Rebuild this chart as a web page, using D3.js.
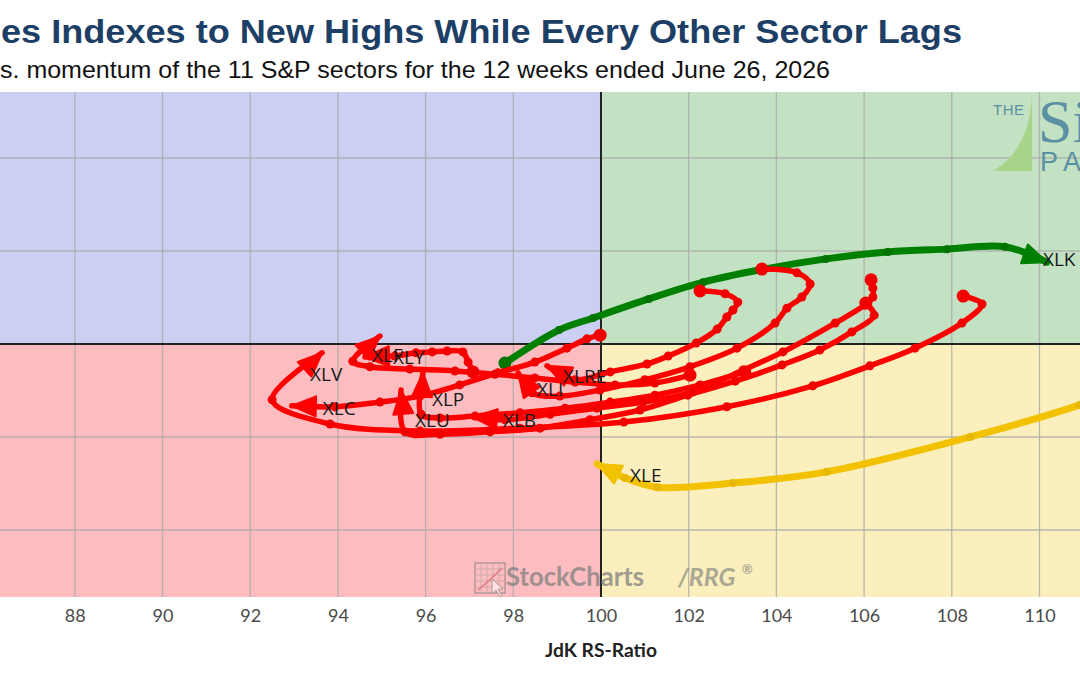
<!DOCTYPE html>
<html>
<head>
<meta charset="utf-8">
<script src="https://cdn.jsdelivr.net/npm/d3@7"></script>
<style>
  body { margin: 0; background: #fff; }
  svg { display: block; }
</style>
</head>
<body>
<div id="chart"></div>
<script>
// RS-Ratio / RS-Momentum weekly points, oldest first, last point = arrow
var xlk = [[97.81,99.59],[99.04,100.30],[99.82,100.56],[101.09,100.97],[102.33,101.33],[103.60,101.59],[105.13,101.83],[106.54,101.98],[107.89,102.04],[109.21,102.09],[110.17,101.76]];
var xle = [[111.49,98.90],[110.92,98.69],[108.42,98.00],[105.15,97.25],[103.01,97.01],[101.28,96.92],[100.55,97.12],[99.91,97.42]];
var xlv = [[108.26,101.03],[108.69,100.86],[108.23,100.45],[107.16,99.91],[106.13,99.53],[104.83,99.10],[102.87,98.65],[100.52,98.32],[98.15,98.19],[95.87,98.13],[93.82,98.28],[92.50,98.80],[93.64,99.81]];
var xlc = [[99.98,100.19],[99.68,100.11],[99.22,99.91],[98.49,99.61],[97.65,99.38],[96.78,99.12],[95.87,98.88],[94.96,98.75],[93.93,98.65],[92.95,98.67]];
var xlf = [[102.03,99.33],[101.23,99.16],[100.32,99.12],[99.41,99.18],[98.49,99.27],[97.58,99.35],[96.67,99.42],[95.64,99.46],[94.73,99.51],[94.34,99.63],[94.96,100.17]];
var xly = [[97.08,99.40],[96.97,99.61],[96.85,99.83],[96.49,99.85],[96.15,99.83],[95.78,99.81],[95.30,99.74],[94.62,99.72]];
var xlp = [[103.28,99.40],[102.26,99.12],[101.23,98.90],[100.21,98.75],[99.18,98.62],[98.15,98.52],[97.13,98.45],[96.33,98.41],[95.90,98.49],[95.94,99.38]];
var xlu = [[106.04,100.88],[106.23,100.62],[105.72,100.26],[104.99,99.87],[104.13,99.55],[103.06,99.20],[101.98,98.90],[100.89,98.58],[99.75,98.37],[98.61,98.19],[97.47,98.11],[96.33,98.06],[95.53,98.11],[95.44,99.01]];
var xli = [[103.67,101.61],[104.47,101.53],[104.77,101.29],[104.58,101.01],[104.24,100.77],[103.97,100.45],[103.10,99.91],[102.03,99.51],[101.00,99.23],[99.98,99.01],[99.06,98.88],[98.43,98.95],[98.11,99.38]];
var xlre = [[102.26,101.14],[102.83,101.08],[103.12,100.90],[103.01,100.73],[102.87,100.58],[102.65,100.32],[102.17,100.02],[101.53,99.74],[101.05,99.57],[100.21,99.40],[99.41,99.23],[98.77,99.53]];
var xlb = [[106.16,101.38],[106.20,101.20],[106.20,101.01],[106.02,100.84],[105.34,100.45],[104.15,99.83],[103.24,99.44],[102.10,98.97],[100.96,98.75],[99.91,98.62],[98.84,98.49],[97.81,98.37],[97.08,98.43]];

var redNames = ['XLV', 'XLC', 'XLF', 'XLY', 'XLP', 'XLU', 'XLI', 'XLRE', 'XLB'];
var redTails = [xlv, xlc, xlf, xly, xlp, xlu, xli, xlre, xlb];

var xTicks = [88, 90, 92, 94, 96, 98, 100, 102, 104, 106, 108, 110];
var yGrid = [94, 96, 98, 102, 104];

// label nudges (pixels) from the arrow tip
var labelOffset = {
  XLK: [-4, -3], XLE: [33, 11], XLV: [-12, 22], XLC: [31, 3], XLF: [-8, 19],
  XLY: [28, 0], XLP: [9, 27], XLU: [14, 30], XLI: [19, 17], XLRE: [16, 11], XLB: [30, 3]
};

var W = 1080, H = 675;
var plot = { left: 0, right: 1080, top: 92, bottom: 597 };

var svg = d3.select('#chart').append('svg')
    .attr('width', W)
    .attr('height', H);

var x = d3.scaleLinear().domain([86.294, 110.924]).range([plot.left, plot.right]);
var y = d3.scaleLinear().domain([94.559, 105.419]).range([plot.bottom, plot.top]);

// titles (left part of the original heading is cropped)
svg.append('text')
    .text('es Indexes to New Highs While Every Other Sector Lags')
    .attr('x', 1).attr('y', 43)
    .attr('textLength', 961).attr('lengthAdjust', 'spacingAndGlyphs')
    .style('font-family', '"Liberation Sans", Arial, sans-serif')
    .style('font-weight', 'bold')
    .style('font-size', '33px')
    .style('fill', '#1d3f66');

svg.append('text')
    .text('s. momentum of the 11 S&P sectors for the 12 weeks ended June 26, 2026')
    .attr('x', 0).attr('y', 78)
    .attr('textLength', 830).attr('lengthAdjust', 'spacingAndGlyphs')
    .style('font-family', '"Liberation Sans", Arial, sans-serif')
    .style('font-size', '24px')
    .style('fill', '#111');

svg.append('clipPath').attr('id', 'plotclip')
  .append('rect')
    .attr('x', plot.left).attr('y', plot.top)
    .attr('width', plot.right - plot.left).attr('height', plot.bottom - plot.top);

var g = svg.append('g').attr('clip-path', 'url(#plotclip)');

// quadrants
var quads = [
  { x0: x.domain()[0], x1: 100, y0: 100, y1: y.domain()[1], fill: '#cbcff4' },
  { x0: 100, x1: x.domain()[1], y0: 100, y1: y.domain()[1], fill: '#c3e1c3' },
  { x0: x.domain()[0], x1: 100, y0: y.domain()[0], y1: 100, fill: '#fdbdc0' },
  { x0: 100, x1: x.domain()[1], y0: y.domain()[0], y1: 100, fill: '#fbf0bd' }
];
g.selectAll('rect.quad')
    .data(quads)
    .enter()
    .append('rect')
    .attr('class', 'quad')
    .attr('x', function (d) { return x(d.x0); })
    .attr('y', function (d) { return y(d.y1); })
    .attr('width', function (d) { return x(d.x1) - x(d.x0); })
    .attr('height', function (d) { return y(d.y0) - y(d.y1); })
    .style('fill', function (d) { return d.fill; });

// grid
g.selectAll('line.vgrid')
    .data(xTicks.filter(function (t) { return t != 100; }))
    .enter().append('line')
    .attr('x1', function (d) { return x(d); }).attr('x2', function (d) { return x(d); })
    .attr('y1', plot.top).attr('y2', plot.bottom)
    .style('stroke', '#aaaaaa').style('stroke-width', 1.3).style('opacity', 0.8);

g.selectAll('line.hgrid')
    .data(yGrid)
    .enter().append('line')
    .attr('x1', plot.left).attr('x2', plot.right)
    .attr('y1', function (d) { return y(d); }).attr('y2', function (d) { return y(d); })
    .style('stroke', '#aaaaaa').style('stroke-width', 1.3).style('opacity', 0.8);

g.append('line')
    .attr('x1', x(100)).attr('x2', x(100)).attr('y1', plot.top).attr('y2', plot.bottom)
    .style('stroke', '#222').style('stroke-width', 2);
g.append('line')
    .attr('x1', plot.left).attr('x2', plot.right).attr('y1', y(100)).attr('y2', y(100))
    .style('stroke', '#222').style('stroke-width', 2);

// watermarks
var wm = g.append('g');
var icon = wm.append('g').attr('transform', 'translate(475,563)').style('opacity', 0.55);
icon.append('rect').attr('width', 30).attr('height', 30)
    .style('fill', 'none').style('stroke', '#777').style('stroke-width', 1.5);
[6, 12, 18, 24].forEach(function (v) {
  icon.append('line').attr('x1', v).attr('x2', v).attr('y1', 0).attr('y2', 30)
      .style('stroke', '#999').style('stroke-width', 0.8);
  icon.append('line').attr('x1', 0).attr('x2', 30).attr('y1', v).attr('y2', v)
      .style('stroke', '#999').style('stroke-width', 0.8);
});
icon.append('path').attr('d', 'M3,27 Q12,20 27,5')
    .style('fill', 'none').style('stroke', '#d04040').style('stroke-width', 1.5);
icon.append('path').attr('d', 'M17,16 L17,31 L21,27 L25,34 L27,33 L23,26 L28,26 Z')
    .style('fill', '#fff').style('stroke', '#777').style('stroke-width', 1);

wm.append('text').text('StockCharts')
    .attr('x', 506).attr('y', 586)
    .attr('textLength', 138).attr('lengthAdjust', 'spacingAndGlyphs')
    .style('font-family', 'Lato, sans-serif').style('font-weight', 'bold')
    .style('font-size', '26px').style('fill', '#808080').style('opacity', 0.75);
wm.append('text').text('/RRG')
    .attr('x', 678).attr('y', 586)
    .style('font-family', 'Lato, sans-serif').style('font-weight', 'bold').style('font-style', 'italic')
    .style('font-size', '25px').style('fill', '#8f8f85').style('opacity', 0.75);
wm.append('text').text('®')
    .attr('x', 742).attr('y', 574)
    .style('font-family', 'Lato, sans-serif').style('font-weight', 'bold')
    .style('font-size', '13px').style('fill', '#8f8f85').style('opacity', 0.75);

var logo = g.append('g');
logo.append('path').attr('d', 'M1032,96 C1030,135 1015,158 993,171 L1032,171 Z')
    .style('fill', '#a8d48a');
logo.append('text').text('THE').attr('x', 993).attr('y', 115)
    .style('font-family', '"Liberation Sans", sans-serif').style('font-size', '15px')
    .style('fill', '#5b8fa3').style('letter-spacing', '0.5px');
logo.append('text').text('Si').attr('x', 1038).attr('y', 142)
    .style('font-family', '"Liberation Serif", serif').style('font-size', '62px')
    .style('fill', '#5b8fa3');
logo.append('text').text('PA').attr('x', 1040).attr('y', 171)
    .style('font-family', '"Liberation Sans", sans-serif').style('font-size', '27px')
    .style('fill', '#5b8fa3').style('letter-spacing', '7px');

// tails
var line = d3.line()
    .x(function (d) { return x(d[0]); })
    .y(function (d) { return y(d[1]); })
    .curve(d3.curveCatmullRom.alpha(0.5));

function arrowHead(pts, len, half) {
  var a = pts[pts.length - 2], b = pts[pts.length - 1];
  var ax = x(a[0]), ay = y(a[1]), bx = x(b[0]), by = y(b[1]);
  var dx = bx - ax, dy = by - ay, n = Math.sqrt(dx * dx + dy * dy);
  var ux = dx / n, uy = dy / n;
  var cx = bx - ux * len, cy = by - uy * len;
  return 'M' + bx + ',' + by +
         'L' + (cx - uy * half) + ',' + (cy + ux * half) +
         'L' + (cx + uy * half) + ',' + (cy - ux * half) + 'Z';
}

function drawTail(pts, color, dotColor, width, dotR, startR) {
  var tg = g.append('g');
  tg.append('path')
      .attr('d', line(pts))
      .style('fill', 'none')
      .style('stroke', color)
      .style('stroke-width', width)
      .style('stroke-linecap', 'round')
      .style('stroke-linejoin', 'round');
  tg.selectAll('circle')
      .data(pts.slice(0, pts.length - 1))
      .enter().append('circle')
      .attr('cx', function (d) { return x(d[0]); })
      .attr('cy', function (d) { return y(d[1]); })
      .attr('r', function (d, i) { return i == 0 ? startR : dotR; })
      .style('fill', dotColor);
  tg.append('path')
      .attr('d', arrowHead(pts, 24, 10))
      .style('fill', color)
      .style('stroke', color)
      .style('stroke-width', 2)
      .style('stroke-linejoin', 'round');
}

drawTail(xlk, '#008000', '#007400', 7, 4, 6.5);
drawTail(xle, '#f2c200', '#e8b800', 7, 4, 4);
redTails.forEach(function (pts) {
  drawTail(pts, '#ff0000', '#f20000', 5.5, 4.5, 6.5);
});

// labels
var labels = [{ name: 'XLK', pts: xlk }, { name: 'XLE', pts: xle }];
redNames.forEach(function (n, i) { labels.push({ name: n, pts: redTails[i] }); });

g.selectAll('text.lbl')
    .data(labels)
    .enter().append('text')
    .attr('class', 'lbl')
    .text(function (d) { return d.name; })
    .attr('x', function (d) { var p = d.pts[d.pts.length - 1]; return x(p[0]) + labelOffset[d.name][0]; })
    .attr('y', function (d) { var p = d.pts[d.pts.length - 1]; return y(p[1]) + labelOffset[d.name][1]; })
    .attr('dy', '0.35em')
    .style('font-family', '"Open Sans", sans-serif')
    .style('font-size', '19px')
    .style('fill', '#1a1a1a');

// x axis
var xAxis = d3.axisBottom(x).tickValues(xTicks).tickSize(0).tickPadding(12);
var ax = svg.append('g')
    .attr('transform', 'translate(0,' + plot.bottom + ')')
    .call(xAxis);
ax.select('.domain').remove();
ax.selectAll('text')
    .style('font-family', 'Lato, sans-serif')
    .style('font-size', '18px')
    .style('fill', '#4a4a4a');

svg.append('text')
    .text('JdK RS-Ratio')
    .attr('x', x(100)).attr('y', 657)
    .attr('text-anchor', 'middle')
    .attr('textLength', 112).attr('lengthAdjust', 'spacingAndGlyphs')
    .style('font-family', 'Lato, sans-serif')
    .style('font-weight', 'bold')
    .style('font-size', '18px')
    .style('fill', '#222');
</script>
</body>
</html>
